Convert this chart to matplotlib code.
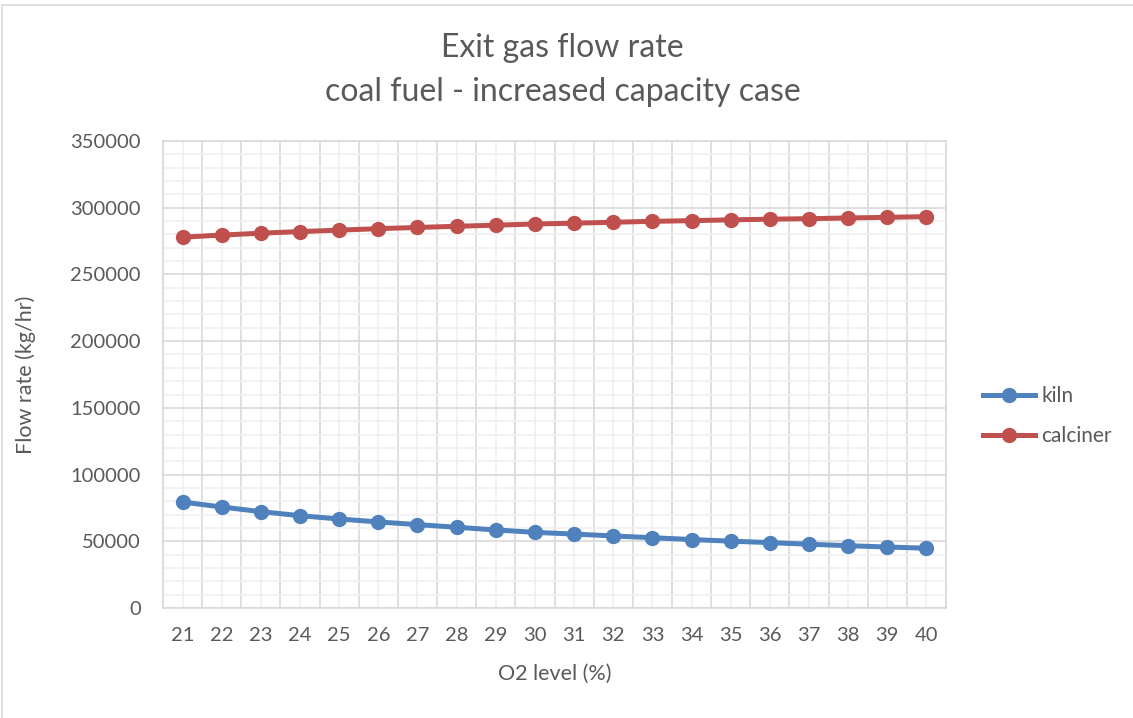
import matplotlib
matplotlib.use("Agg")
import matplotlib.pyplot as plt
from matplotlib.patches import Rectangle
from matplotlib.ticker import MultipleLocator, FixedLocator

o2_level = list(range(21, 41))
kiln = [79400, 75700, 72200, 69200, 66700, 64500, 62500, 60500, 58500, 56700,
        55400, 54000, 52700, 51300, 50100, 49000, 47800, 46700, 45700, 44800]
calciner = [277900, 279500, 280900, 282100, 283200, 284300, 285200, 286100, 286900, 287800,
            288400, 289100, 289800, 290300, 290900, 291400, 291800, 292300, 292800, 293300]

plt.rcParams['font.family'] = ['Lato', 'DejaVu Sans']
text_color = '#595959'

fig = plt.figure(figsize=(11.33, 7.18), dpi=100)
fig.patches.append(Rectangle((2 / 1133, -0.01), 1.02, 1 - 5 / 718 + 0.01,
                             transform=fig.transFigure, fill=False,
                             edgecolor='#d9d9d9', linewidth=1.2))

ax = fig.add_axes([163 / 1133, 1 - 608 / 718, (946 - 163) / 1133, (608 - 141) / 718])

ax.plot(o2_level, kiln, color='#4f81bd', linewidth=3.6, marker='o',
        markersize=10, label='kiln', zorder=3)
ax.plot(o2_level, calciner, color='#c0504d', linewidth=3.6, marker='o',
        markersize=10, label='calciner', zorder=3)

ax.set_xlim(20.5, 40.5)
ax.set_ylim(0, 350000)

# category boundaries carry the major grid, centres the minor one
ax.xaxis.set_major_locator(FixedLocator([x - 0.5 for x in o2_level] + [40.5]))
ax.xaxis.set_minor_locator(FixedLocator(o2_level))
ax.set_xticklabels([])
ax.set_xticks(o2_level, [str(x) for x in o2_level], minor=True)
ax.yaxis.set_major_locator(MultipleLocator(50000))
ax.yaxis.set_minor_locator(MultipleLocator(10000))

ax.grid(which='major', color='#d9d9d9', linewidth=1.2)
ax.grid(which='minor', color='#f0f0f0', linewidth=1.2)
ax.set_axisbelow(True)

ax.tick_params(which='both', length=0, labelsize=14.5, labelcolor=text_color)
ax.tick_params(axis='x', which='minor', pad=14)
ax.tick_params(axis='y', pad=16)
for s in ax.spines.values():
    s.set_color('#d9d9d9')
    s.set_linewidth(1.2)

ax.set_xlabel('O2 level (%)', fontsize=15.5, color=text_color, labelpad=14)
ax.set_ylabel('Flow rate (kg/hr)', fontsize=15.5, color=text_color, labelpad=25)

fig.text(0.4965, 1 - 48 / 718, 'Exit gas flow rate', ha='center', va='center',
         fontsize=23, color=text_color)
fig.text(0.4965, 1 - 92 / 718, 'coal fuel - increased capacity case', ha='center',
         va='center', fontsize=23, color=text_color)

fig.legend(loc='center left', bbox_to_anchor=(983 / 1133, 1 - 416 / 718),
           frameon=False, fontsize=15, labelcolor=text_color, handlelength=2.5,
           handletextpad=0.3, labelspacing=0.95, borderpad=0, borderaxespad=0)

fig.savefig('out.png', dpi=100)
